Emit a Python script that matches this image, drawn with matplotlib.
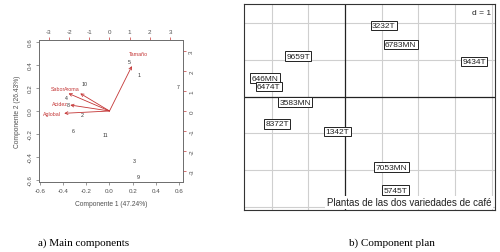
import matplotlib
matplotlib.use("Agg")
import matplotlib.pyplot as plt
import numpy as np

# ---------------- data: left panel (biplot) ----------------
obs_labels = ["1", "2", "3", "4", "5", "6", "7", "8", "9", "10", "11"]
obs_x = [1.45, -1.33, 1.22, -2.12, 1.00, -1.80, 3.39, -2.02, 1.42, -1.22, -0.20]
obs_y = [1.83, -0.20, -2.50, 0.67, 2.50, -0.97, 1.23, 0.33, -3.30, 1.40, -1.20]

var_labels = ["Tamaño", "Sabor", "Aroma", "Acidez", "Aglobal"]
var_x = [0.193, -0.353, -0.252, -0.338, -0.390]
var_y = [0.391, 0.153, 0.153, 0.052, -0.020]

primary_ticks = [-0.6, -0.4, -0.2, 0.0, 0.2, 0.4, 0.6]
secondary_ticks = [-3, -2, -1, 0, 1, 2, 3]
xlab_left = "Componente 1 (47.24%)"
ylab_left = "Componente 2 (26.43%)"

# ---------------- data: right panel (component plan) ----------------
plant_labels = ["3232T", "6783MN", "9659T", "9434T", "646MN", "6474T",
                "3583MN", "8372T", "1342T", "7053MN", "5745T"]
plant_x = [1.06, 1.52, -1.27, 3.52, -2.18, -2.08, -1.36, -1.85, -0.20, 1.27, 1.38]
plant_y = [1.93, 1.42, 1.10, 0.95, 0.50, 0.27, -0.15, -0.74, -0.95, -1.92, -2.55]
grid_x = [-2, -1, 1, 2, 3, 4]
grid_y = [-3, -2, -1, 1, 2]
right_title = "Plantas de las dos variedades de café"
scale_text = "d = 1"

captions = ["a) Main components", "b) Component plan"]

# ---------------- figure ----------------
fig = plt.figure(figsize=(5.0, 2.53), dpi=100)
fig.patch.set_facecolor("white")

RED = "#c43535"
GREY = "#505050"
sans = ["Liberation Sans", "DejaVu Sans"]

# ----- left biplot -----
ax = fig.add_axes([39/500, 1-183/253, 144/500, 142/253])
ratio = 5.75
ax.set_xlim(-0.607, 0.633)
ax.set_ylim(-0.618, 0.618)
for s in ax.spines.values():
    s.set_color("#707070")
    s.set_linewidth(0.6)
ax.set_xticks(primary_ticks)
ax.set_yticks(primary_ticks)
ax.set_xticklabels([f"{t:.1f}" for t in primary_ticks], fontsize=4.5, color=GREY, family=sans)
ax.set_yticklabels([f"{t:.1f}" for t in primary_ticks], fontsize=4.5, color=GREY,
                   family=sans, rotation=90, va="center")
ax.tick_params(length=2.5, width=0.5, color="#707070", pad=2)
ax.set_xlabel(xlab_left, fontsize=4.8, color=GREY, family=sans, labelpad=5)
ax.set_ylabel(ylab_left, fontsize=4.8, color=GREY, family=sans, labelpad=5)

# secondary axes
axt = ax.twiny()
axt.set_xlim(-0.607*ratio, 0.633*ratio)
axt.set_xticks(secondary_ticks)
axt.set_xticklabels([str(t) for t in secondary_ticks], fontsize=4.5, color=GREY, family=sans)
axt.tick_params(length=2.5, width=0.5, color=RED, pad=2)
axr = ax.twinx()
axr.set_ylim(-0.618*ratio, 0.618*ratio)
axr.set_yticks(secondary_ticks)
axr.set_yticklabels([str(t) for t in secondary_ticks], fontsize=4.5, color=GREY,
                    family=sans, rotation=90, va="center")
axr.tick_params(length=2.5, width=0.5, color=RED, pad=2)
for a in (axt, axr):
    for s in a.spines.values():
        s.set_color("#707070")
        s.set_linewidth(0.6)

# observations (secondary scale)
for lab, x, y in zip(obs_labels, obs_x, obs_y):
    ax.text(x/ratio, y/ratio, lab, fontsize=3.8, color="#333333", family=sans,
            ha="center", va="center")

# variable arrows
for lab, x, y in zip(var_labels, var_x, var_y):
    ax.annotate("", xy=(x, y), xytext=(0, 0),
                arrowprops=dict(arrowstyle="->", color=RED, lw=0.6,
                                shrinkA=0, shrinkB=0, mutation_scale=5))
    ax.text(x*1.27, y*1.27, lab, fontsize=3.8, color=RED, family=sans,
            ha="center", va="center")

# ----- right component plan -----
bx = fig.add_axes([244/500, 1-210.7/253, 251/500, 206/253])
bx.set_xlim(-2.75, 4.09)
bx.set_ylim(-3.08, 2.53)
for g in grid_x:
    bx.axvline(g, color="#cfcfcf", lw=0.8, zorder=0)
for g in grid_y:
    bx.axhline(g, color="#cfcfcf", lw=0.8, zorder=0)
bx.axvline(0, color="#222222", lw=0.9, zorder=1)
bx.axhline(0, color="#222222", lw=0.9, zorder=1)
bx.set_xticks([])
bx.set_yticks([])
for s in bx.spines.values():
    s.set_color("#333333")
    s.set_linewidth(0.8)
for lab, x, y in zip(plant_labels, plant_x, plant_y):
    bx.text(x, y, lab, fontsize=6, family=sans, color="#222222",
            ha="center", va="center", zorder=3,
            bbox=dict(boxstyle="square,pad=0.15", fc="white", ec="#222222", lw=0.7))
bx.text(0.985, 0.975, scale_text, transform=bx.transAxes, fontsize=6, family=sans,
        ha="right", va="top", color="#222222",
        bbox=dict(boxstyle="square,pad=0.1", fc="white", ec="none"))
bx.text(0.985, 0.012, right_title, transform=bx.transAxes, fontsize=7, family=sans,
        ha="right", va="bottom", color="#222222", zorder=4,
        bbox=dict(boxstyle="square,pad=0.15", fc="white", ec="none"))

# captions
fig.text(84/500, 1-243/253, captions[0], fontsize=8, family=["Liberation Serif", "DejaVu Serif"],
         ha="center", va="center")
fig.text(392/500, 1-243/253, captions[1], fontsize=8, family=["Liberation Serif", "DejaVu Serif"],
         ha="center", va="center")

fig.savefig("out.png", dpi=100, facecolor="white")
